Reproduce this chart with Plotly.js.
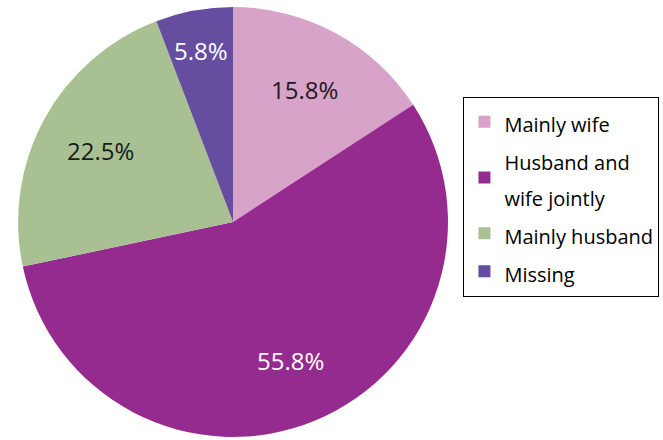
<!DOCTYPE html>
<html><head><meta charset="utf-8">
<script src="https://cdn.plot.ly/plotly-3.0.1.min.js"></script>
<style>html,body{margin:0;padding:0;background:#fff}#chart{width:663px;height:440px}</style>
</head><body><div id="chart"></div>
<script>
const labels = ["Mainly wife", "Husband and<br>wife jointly", "Mainly husband", "Missing"];
const values = [15.8, 55.8, 22.5, 5.8];
const colors = ["#D8A3C9", "#952B8F", "#A9C192", "#654EA0"];
const textColors = ["#1A1A1A", "#FFFFFF", "#1A1A1A", "#FFFFFF"];

const W = 663, H = 440;
const dom = {x: [0.027, 0.676], y: [0.007, 0.984]};

const trace = {
  type: "pie",
  labels: labels.map(l => '<span style="font-size:20px">' + l + '</span>'),
  values: values,
  sort: false,
  direction: "clockwise",
  rotation: 0,
  marker: {colors: colors, line: {width: 0}},
  textinfo: "none",
  hoverinfo: "none",
  domain: dom
};

// label positions derived from the data: mid-angle of each slice
const total = values.reduce((a, b) => a + b, 0);
const cx = (dom.x[0] + dom.x[1]) / 2 * W;
const cy = (1 - (dom.y[0] + dom.y[1]) / 2) * H;
const R = Math.min((dom.x[1] - dom.x[0]) * W, (dom.y[1] - dom.y[0]) * H) / 2;
let cum = 0;
const annotations = values.map((v, i) => {
  const mid = (cum + v / 2) / total * 2 * Math.PI;
  cum += v;
  const frac = v < 10 ? 0.81 : 0.7;
  const px = cx + R * frac * Math.sin(mid);
  const py = cy - R * frac * Math.cos(mid);
  return {
    xref: "paper", yref: "paper", x: px / W, y: 1 - py / H,
    xanchor: "center", yanchor: "middle", showarrow: false,
    text: v.toFixed(1) + "%",
    font: {family: "Open Sans, sans-serif", size: 24, color: textColors[i]}
  };
});

const layout = {
  width: W, height: H,
  margin: {l: 0, r: 0, t: 0, b: 0},
  paper_bgcolor: "#fff",
  showlegend: true,
  annotations: annotations,
  legend: {
    x: 0.699, y: 0.78, xanchor: "left", yanchor: "top",
    bordercolor: "#000", borderwidth: 1, bgcolor: "#fff",
    font: {family: "Open Sans, sans-serif", size: 27, color: "#000"},
    tracegroupgap: 0, itemwidth: 30
  }
};
Plotly.newPlot("chart", [trace], layout, {staticPlot: true});
</script></body></html>
